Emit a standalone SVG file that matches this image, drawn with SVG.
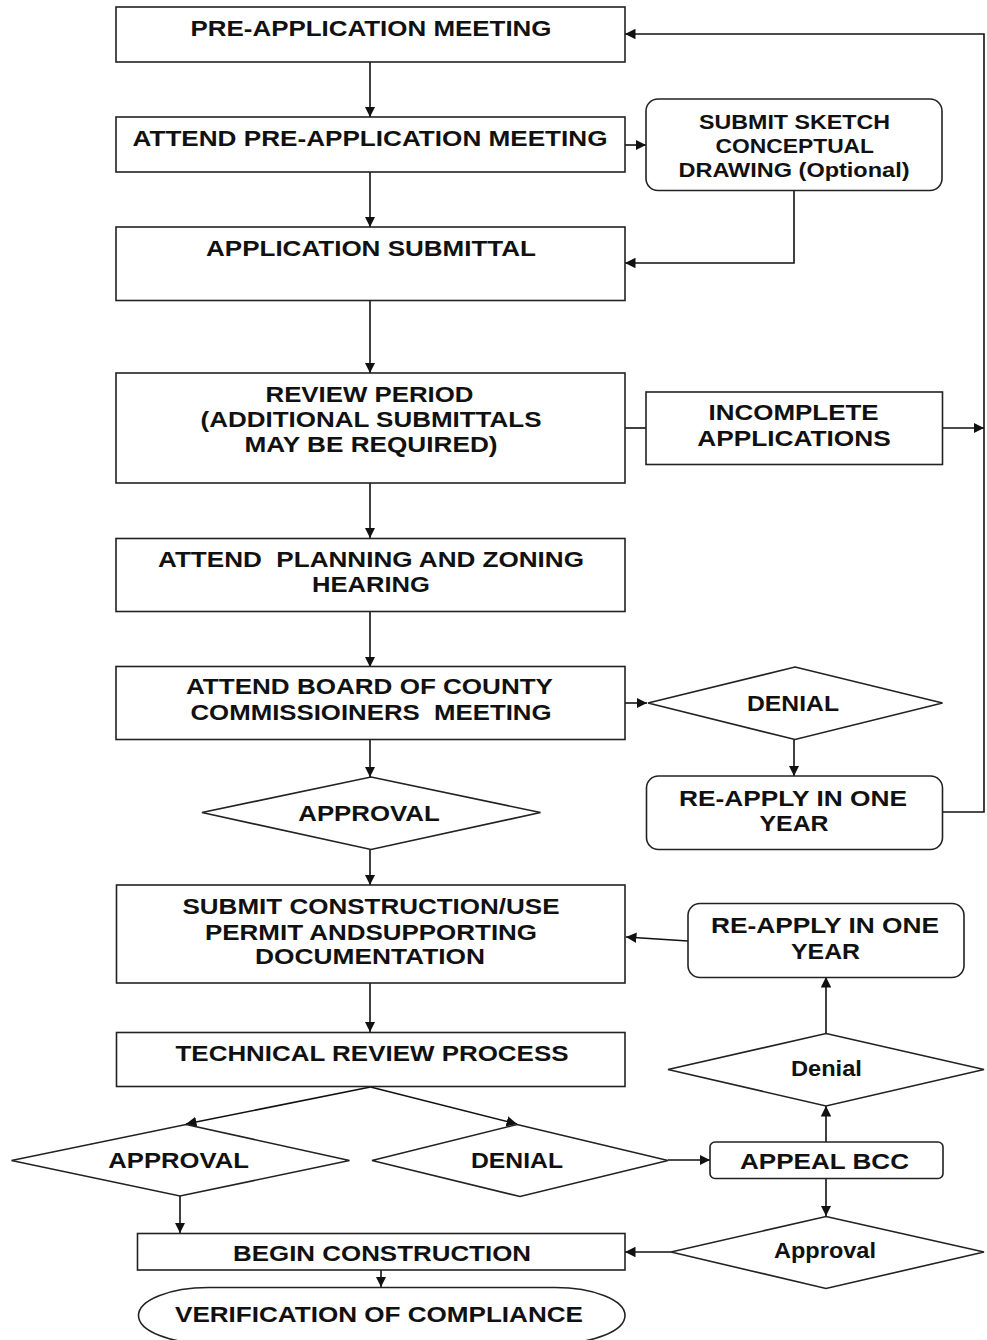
<svg xmlns="http://www.w3.org/2000/svg" width="987" height="1340" viewBox="0 0 987 1340">
<defs>
<marker id="ah" viewBox="0 0 10 10" refX="10" refY="5" markerWidth="10.5" markerHeight="10.5" markerUnits="userSpaceOnUse" orient="auto">
<path d="M0,0 L10,5 L0,10 z" fill="#111"/>
</marker>
</defs>
<style>
.n{fill:#fff;stroke:#222;stroke-width:1.6}
.t{font-family:"Liberation Sans",Arial,sans-serif;font-weight:bold;font-size:22px;fill:#111;text-anchor:middle}
.s{font-size:20.5px}
.c{fill:none;stroke:#111;stroke-width:1.6}
.a{marker-end:url(#ah)}
</style>
<rect width="987" height="1340" fill="#fff"/>
<g id="connectors">
<line class="c a" x1="370" y1="62" x2="370" y2="117"/>
<line class="c a" x1="370" y1="172" x2="370" y2="227"/>
<line class="c a" x1="624" y1="145" x2="646" y2="145"/>
<polyline class="c a" points="794,191 794,263 625,263"/>
<line class="c a" x1="370" y1="300" x2="370" y2="373"/>
<line class="c" x1="624" y1="428" x2="646" y2="428"/>
<line class="c a" x1="942" y1="428" x2="984" y2="428"/>
<polyline class="c a" points="942,812 984,812 984,34 625,34"/>
<line class="c a" x1="370" y1="483" x2="370" y2="538"/>
<line class="c a" x1="370" y1="611" x2="370" y2="667"/>
<line class="c a" x1="624" y1="703" x2="647" y2="703"/>
<line class="c a" x1="794" y1="740" x2="794" y2="776"/>
<line class="c a" x1="370" y1="739" x2="370" y2="777"/>
<line class="c a" x1="370" y1="849" x2="370" y2="885"/>
<line class="c a" x1="688" y1="941" x2="626" y2="937"/>
<line class="c a" x1="370" y1="983" x2="370" y2="1032"/>
<line class="c a" x1="370.5" y1="1087" x2="186" y2="1124"/>
<line class="c a" x1="370.5" y1="1087" x2="517" y2="1124"/>
<line class="c a" x1="180" y1="1196" x2="180" y2="1233"/>
<line class="c a" x1="668" y1="1160" x2="710" y2="1160"/>
<line class="c a" x1="826" y1="1142" x2="826" y2="1106"/>
<line class="c a" x1="826" y1="1033" x2="826" y2="977"/>
<line class="c a" x1="826" y1="1178" x2="826" y2="1216"/>
<line class="c a" x1="671" y1="1252" x2="625" y2="1252"/>
<line class="c a" x1="381" y1="1270" x2="381" y2="1287"/>
</g>
<g id="n1"><rect class="n" x="116" y="7" width="509" height="55"/><text class="t" x="371" y="35.7" textLength="361" lengthAdjust="spacingAndGlyphs">PRE-APPLICATION MEETING</text></g>
<g id="n2"><rect class="n" x="116" y="117" width="509" height="55"/><text class="t" x="370" y="145.5" textLength="475" lengthAdjust="spacingAndGlyphs">ATTEND PRE-APPLICATION MEETING</text></g>
<g id="n3"><rect class="n" x="646" y="99" width="296" height="91.5" rx="12"/>
<text class="t s" x="794.5" y="129" textLength="191" lengthAdjust="spacingAndGlyphs">SUBMIT SKETCH</text>
<text class="t s" x="794.8" y="153" textLength="158.5" lengthAdjust="spacingAndGlyphs">CONCEPTUAL</text>
<text class="t s" x="794" y="176.5" textLength="231" lengthAdjust="spacingAndGlyphs">DRAWING (Optional)</text></g>
<g id="n4"><rect class="n" x="116" y="227" width="509" height="73.5"/><text class="t" x="371" y="256" textLength="330" lengthAdjust="spacingAndGlyphs">APPLICATION SUBMITTAL</text></g>
<g id="n5"><rect class="n" x="116" y="373" width="509" height="110"/>
<text class="t" x="369.5" y="401.5" textLength="208" lengthAdjust="spacingAndGlyphs">REVIEW PERIOD</text>
<text class="t" x="371" y="426.5" textLength="341" lengthAdjust="spacingAndGlyphs">(ADDITIONAL SUBMITTALS</text>
<text class="t" x="371" y="451.5" textLength="253" lengthAdjust="spacingAndGlyphs">MAY BE REQUIRED)</text></g>
<g id="n6"><rect class="n" x="646" y="392" width="296.5" height="72.5"/>
<text class="t" x="793.6" y="420" textLength="170" lengthAdjust="spacingAndGlyphs">INCOMPLETE</text>
<text class="t" x="794" y="445.5" textLength="193.6" lengthAdjust="spacingAndGlyphs">APPLICATIONS</text></g>
<g id="n7"><rect class="n" x="116" y="538.5" width="509" height="73"/>
<text class="t" x="371" y="566.5" textLength="426" lengthAdjust="spacingAndGlyphs" xml:space="preserve">ATTEND  PLANNING AND ZONING</text>
<text class="t" x="371" y="592" textLength="118" lengthAdjust="spacingAndGlyphs">HEARING</text></g>
<g id="n8"><rect class="n" x="116" y="666.5" width="509" height="73"/>
<text class="t" x="369.5" y="694" textLength="367" lengthAdjust="spacingAndGlyphs">ATTEND BOARD OF COUNTY</text>
<text class="t" x="371" y="720" textLength="361" lengthAdjust="spacingAndGlyphs" xml:space="preserve">COMMISSIOINERS  MEETING</text></g>
<g id="n9"><polygon class="n" points="795,667 942.5,703 795,739.5 648,703"/>
<text class="t" x="793" y="711" textLength="92" lengthAdjust="spacingAndGlyphs">DENIAL</text></g>
<g id="n10"><rect class="n" x="646.5" y="776" width="296" height="73.5" rx="12"/>
<text class="t" x="793" y="805.5" textLength="228" lengthAdjust="spacingAndGlyphs">RE-APPLY IN ONE</text>
<text class="t" x="794" y="831" textLength="69" lengthAdjust="spacingAndGlyphs">YEAR</text></g>
<g id="n11"><polygon class="n" points="371,777 540.5,812.5 371,849.5 202,812.5"/>
<text class="t" x="369" y="821" textLength="141.5" lengthAdjust="spacingAndGlyphs">APPROVAL</text></g>
<g id="n12"><rect class="n" x="116.5" y="885" width="508.5" height="98"/>
<text class="t" x="371" y="914" textLength="377" lengthAdjust="spacingAndGlyphs">SUBMIT CONSTRUCTION/USE</text>
<text class="t" x="371" y="940" textLength="332" lengthAdjust="spacingAndGlyphs">PERMIT ANDSUPPORTING</text>
<text class="t" x="370" y="964" textLength="230" lengthAdjust="spacingAndGlyphs">DOCUMENTATION</text></g>
<g id="n13"><rect class="n" x="688" y="903.5" width="276" height="74" rx="12"/>
<text class="t" x="825" y="933" textLength="228" lengthAdjust="spacingAndGlyphs">RE-APPLY IN ONE</text>
<text class="t" x="825.5" y="959" textLength="69" lengthAdjust="spacingAndGlyphs">YEAR</text></g>
<g id="n14"><rect class="n" x="116.5" y="1032.5" width="508.5" height="54"/>
<text class="t" x="372" y="1060.5" textLength="393" lengthAdjust="spacingAndGlyphs">TECHNICAL REVIEW PROCESS</text></g>
<g id="n15"><polygon class="n" points="186,1124.5 349.5,1160.5 180,1196 11.5,1160.5"/>
<text class="t" x="178.6" y="1168" textLength="140.5" lengthAdjust="spacingAndGlyphs">APPROVAL</text></g>
<g id="n16"><polygon class="n" points="517,1124.5 668,1160.5 520,1196.5 372,1160.5"/>
<text class="t" x="517" y="1168" textLength="92" lengthAdjust="spacingAndGlyphs">DENIAL</text></g>
<g id="n17"><rect class="n" x="710" y="1142" width="233" height="36.5" rx="5"/>
<text class="t" x="824.5" y="1169" textLength="169" lengthAdjust="spacingAndGlyphs">APPEAL BCC</text></g>
<g id="n18"><polygon class="n" points="826,1033.5 984,1069.5 826,1106 668,1069.5"/>
<text class="t" x="826.4" y="1076" font-size="20" textLength="71" lengthAdjust="spacingAndGlyphs">Denial</text></g>
<g id="n19"><polygon class="n" points="826,1216.5 984,1252 826,1288.5 671,1252"/>
<text class="t" x="825" y="1257.5" font-size="20" textLength="102" lengthAdjust="spacingAndGlyphs">Approval</text></g>
<g id="n20"><rect class="n" x="137.5" y="1233.5" width="487.5" height="36.5"/>
<text class="t" x="382" y="1261" textLength="298" lengthAdjust="spacingAndGlyphs">BEGIN CONSTRUCTION</text></g>
<g id="n21"><rect class="n" x="138.5" y="1287.5" width="486.5" height="56" rx="70" ry="28"/>
<text class="t" x="379" y="1322" textLength="408" lengthAdjust="spacingAndGlyphs">VERIFICATION OF COMPLIANCE</text></g>
</svg>
